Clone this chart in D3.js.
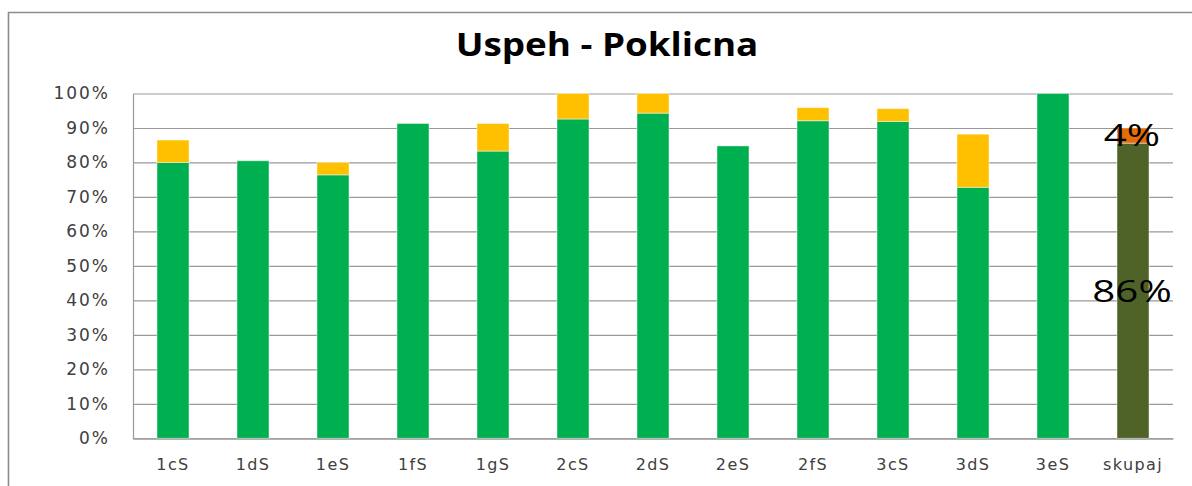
<!DOCTYPE html>
<html>
<head>
<meta charset="utf-8">
<script src="https://cdn.jsdelivr.net/npm/d3@7"></script>
<style>
  html, body { margin: 0; padding: 0; background: #fff; }
  svg { display: block; }
</style>
</head>
<body>
<svg id="chart" width="1192" height="486"></svg>
<script>
// ---- data ----
const title = "Uspeh - Poklicna";
const categories = ["1cS","1dS","1eS","1fS","1gS","2cS","2dS","2eS","2fS","3cS","3dS","3eS","skupaj"];
// share of positive students (lower segment)
const positive = [0.800,0.805,0.764,0.913,0.833,0.926,0.943,0.848,0.921,0.919,0.728,1.000,0.856];
// share with corrective exams (upper segment)
const corrective = [0.065,0.000,0.036,0.000,0.080,0.074,0.057,0.000,0.038,0.037,0.154,0.000,0.044];
const tickValues = [0,0.1,0.2,0.3,0.4,0.5,0.6,0.7,0.8,0.9,1.0];
const labelledCategories = ["skupaj"];

const colors = {
  positive: "#00B050",
  corrective: "#FFC000",
  totalPositive: "#4F6228",
  totalCorrective: "#E46C0A"
};

// ---- layout ----
const svg = d3.select("#chart");
const plot = { left: 133, right: 1173, top: 93.5, bottom: 438.3 };

const x = d3.scaleBand().domain(categories)
  .range([plot.left, plot.right]).paddingInner(0.6).paddingOuter(0.3);
const y = d3.scaleLinear().domain([0, 1]).range([plot.bottom, plot.top]);

// outer chart border
svg.append("path")
  .attr("d", `M8.5,${486} L8.5,12.5 L1192,12.5`)
  .attr("fill", "none").attr("stroke", "#8c8c8c").attr("stroke-width", 1.6);

// title
svg.append("text")
  .attr("transform", "translate(607,56) scale(1.15,1)")
  .attr("text-anchor", "middle")
  .attr("font-family", "'Open Sans', sans-serif")
  .attr("font-weight", "bold").attr("font-size", 32)
  .attr("fill", "#000")
  .text(title);

// gridlines
const grid = svg.append("g")
  .attr("transform", `translate(${plot.left},0)`)
  .call(d3.axisLeft(y).tickValues(tickValues).tickSize(-(plot.right - plot.left)).tickFormat(""));
grid.select(".domain").remove();
grid.selectAll("line").attr("stroke", "#999").attr("stroke-width", 1.2);

// y-axis labels
const yAxis = svg.append("g")
  .attr("transform", `translate(${plot.left},0)`)
  .call(d3.axisLeft(y).tickValues(tickValues).tickSize(0).tickPadding(23).tickFormat(d3.format(".0%")));
yAxis.select(".domain").attr("stroke", "#999").attr("stroke-width", 1.2);
yAxis.selectAll("text")
  .attr("font-family", "'DejaVu Sans', sans-serif")
  .attr("font-size", 17).attr("letter-spacing", 2)
  .attr("fill", "#404040");

// x-axis
const xAxis = svg.append("g")
  .attr("transform", `translate(0,${plot.bottom})`)
  .call(d3.axisBottom(x).tickSize(0).tickPadding(20));
xAxis.select(".domain").attr("stroke", "#999").attr("stroke-width", 1.2);
xAxis.selectAll("text")
  .attr("font-family", "'DejaVu Sans', sans-serif")
  .attr("font-size", 16).attr("letter-spacing", 1.4)
  .attr("fill", "#404040");

// bars
const rows = categories.map((c, i) => ({ cat: c, positive: positive[i], corrective: corrective[i] }));
const stack = d3.stack().keys(["positive", "corrective"]);
const series = stack(rows);

const isTotal = c => labelledCategories.includes(c);

series.forEach(s => {
  svg.append("g").selectAll("rect")
    .data(s.filter(d => d[1] - d[0] > 0))
    .join("rect")
    .attr("x", d => x(d.data.cat))
    .attr("width", x.bandwidth())
    .attr("y", d => y(d[1]))
    .attr("height", d => y(d[0]) - y(d[1]))
    .attr("fill", d => isTotal(d.data.cat)
      ? (s.key === "positive" ? colors.totalPositive : colors.totalCorrective)
      : colors[s.key])
    .attr("stroke", "rgba(255,255,255,0.45)")
    .attr("stroke-width", 1);
});

// data labels on the total bar
series.forEach(s => {
  svg.append("g").selectAll("text")
    .data(s.filter(d => isTotal(d.data.cat)))
    .join("text")
    .attr("transform", d => `translate(${x(d.data.cat) + x.bandwidth() / 2 - 1},${y((d[0] + d[1]) / 2)}) scale(1.3,1)`)
    .attr("dy", "0.35em")
    .attr("text-anchor", "middle")
    .attr("font-family", "'Open Sans', sans-serif")
    .attr("font-size", 31)
    .attr("fill", "#000")
    .text(d => d3.format(".0%")(d[1] - d[0]));
});
</script>
</body>
</html>
